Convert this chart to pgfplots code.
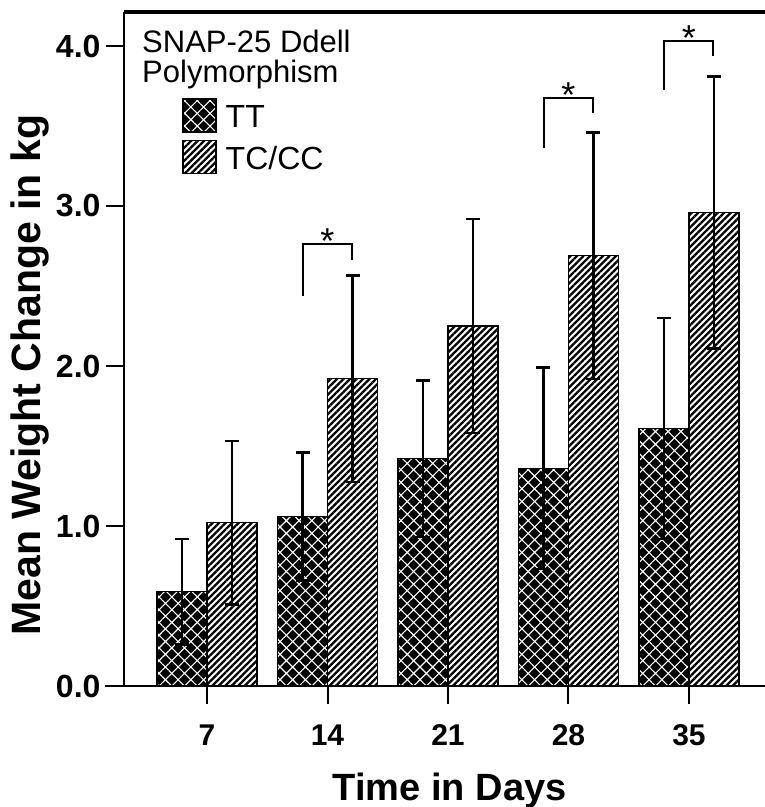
\documentclass[border=0pt]{standalone}
\usepackage{pgfplots}
\pgfplotsset{compat=1.18}
\usetikzlibrary{patterns.meta}
\usepackage{fontspec}
\setmainfont{Liberation Sans}
\begin{document}
\begin{tikzpicture}
\begin{axis}[
  at={(0,0)}, anchor=south west,
  scale only axis, width=641pt, height=674pt,
  xmin=-0.689, xmax=4.631, ymin=0, ymax=4.2125,
  clip=false,
  axis lines*=left,
  axis line style={-, line width=2.5pt, black},
  ybar=0pt, bar width=50pt,
  xtick={0,1,2,3,4}, xticklabels={7,14,21,28,35},
  ytick={0,1,2,3,4},
  tick align=outside, major tick length=18pt,
  tick style={line width=2pt, black},
  /pgf/number format/assume math mode=true,
  ticklabel style={font=\bfseries\fontsize{30}{30}\selectfont},
  y tick label style={/pgf/number format/fixed, /pgf/number format/fixed zerofill, /pgf/number format/precision=1,
    xshift=-2pt, font=\bfseries\fontsize{32}{32}\selectfont},
  x tick label style={yshift=-17pt},
  every axis y label/.style={at={(axis description cs:0,0.461)}, xshift=-94pt, rotate=90, anchor=center},
  every axis x label/.style={at={(axis description cs:0.508,0)}, yshift=-114pt, anchor=base},
  ylabel={Mean Weight Change in kg},
  xlabel={Time in Days},
  ylabel style={font=\bfseries\fontsize{41}{41}\selectfont},
  xlabel style={font=\bfseries\fontsize{38}{38}\selectfont},
  legend style={at={(axis description cs:0.0905,0.8724)}, anchor=north west, draw=none, fill=none,
    inner sep=0pt, row sep=7pt, font=\fontsize{32}{32}\selectfont,
    /tikz/every odd column/.append style={column sep=7pt}},
  legend cell align=left,
  legend image code/.code={\draw[#1, line width=1.5pt] (0pt,-14.5pt) rectangle (33pt,18.5pt);},
]
\addplot[draw=black, line width=1.2pt, fill=black,
  postaction={pattern={Hatch[angle=45,distance=9pt,line width=1.1pt]},pattern color=white},
  error bars/.cd, y dir=both, y explicit,
  error bar style={line width=2.4pt, black},
  error mark options={rotate=90, line width=2.4pt, black, mark size=7pt}]
  coordinates {(0,0.59) +- (0,0.33) (1,1.06) +- (0,0.40) (2,1.42) +- (0,0.49) (3,1.36) +- (0,0.63) (4,1.61) +- (0,0.69)};
\addlegendentry{TT}
\addplot[draw=black, line width=1.2pt, fill=white,
  postaction={pattern={Lines[angle=45,distance=4.6pt,line width=2.3pt]},pattern color=black},
  error bars/.cd, y dir=both, y explicit,
  error bar style={line width=2.4pt, black},
  error mark options={rotate=90, line width=2.4pt, black, mark size=7pt}]
  coordinates {(0,1.02) +- (0,0.51) (1,1.92) +- (0,0.645) (2,2.25) +- (0,0.67) (3,2.69) +- (0,0.77) (4,2.96) +- (0,0.85)};
\addlegendentry{TC/CC}
% significance brackets
\draw[line width=2pt] (axis cs:0.793,2.44) -- (axis cs:0.793,2.76) -- (axis cs:1.2,2.76) -- (axis cs:1.2,2.66);
\draw[line width=2pt] (axis cs:2.793,3.36) -- (axis cs:2.793,3.675) -- (axis cs:3.2,3.675) -- (axis cs:3.2,3.58);
\draw[line width=2pt] (axis cs:3.793,3.725) -- (axis cs:3.793,4.03) -- (axis cs:4.2,4.03) -- (axis cs:4.2,3.94);
\node[anchor=base, inner sep=0pt, font=\fontsize{36}{36}\selectfont, yshift=-9.5pt] at (axis cs:1,2.76) {*};
\node[anchor=base, inner sep=0pt, font=\fontsize{36}{36}\selectfont, yshift=-9.5pt] at (axis cs:3,3.675) {*};
\node[anchor=base, inner sep=0pt, font=\fontsize{36}{36}\selectfont, yshift=-9.5pt] at (axis cs:4,4.03) {*};
% legend title
\node[anchor=base west, inner sep=0pt, font=\fontsize{31}{31}\selectfont] at (axis description cs:0.0281,0.9392) {SNAP-25 Ddell};
\node[anchor=base west, inner sep=0pt, font=\fontsize{31}{31}\selectfont] at (axis description cs:0.0281,0.8961) {Polymorphism};
% frame pieces
\draw[line width=4pt] (rel axis cs:0,1) -- (rel axis cs:1,1);
\draw[line width=2.5pt] ([xshift=-19pt]rel axis cs:0,0) -- (rel axis cs:0,0);
\end{axis}
\pgfresetboundingbox
\useasboundingbox (-124pt,-121pt) rectangle (641pt,686pt);
\end{tikzpicture}
\end{document}
